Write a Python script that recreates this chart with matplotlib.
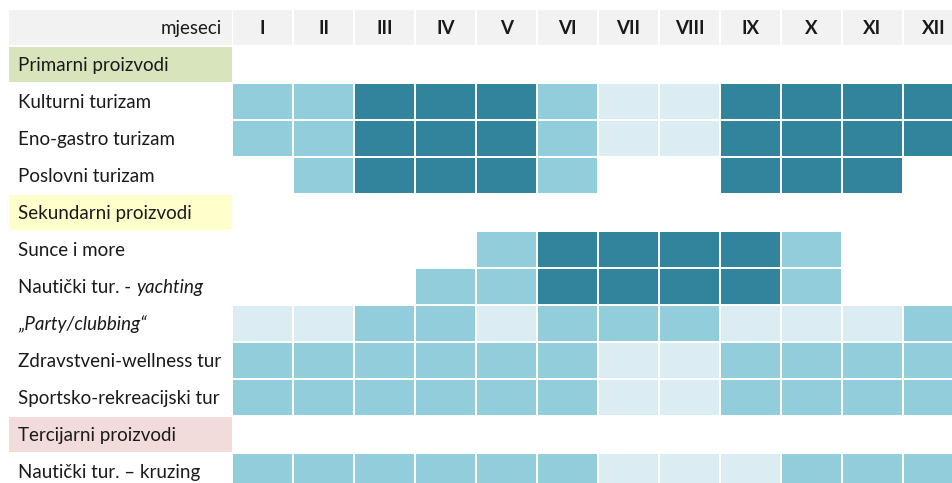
import matplotlib.pyplot as plt
from matplotlib.patches import Rectangle

plt.rcParams['font.family'] = ['Lato', 'DejaVu Sans']

months = ['I', 'II', 'III', 'IV', 'V', 'VI', 'VII', 'VIII', 'IX', 'X', 'XI', 'XII']

# row labels; None in levels marks a section heading
rows = ['Primarni proizvodi', 'Kulturni turizam', 'Eno-gastro turizam', 'Poslovni turizam',
        'Sekundarni proizvodi', 'Sunce i more', 'Nautički tur. - yachting', '„Party/clubbing“',
        'Zdravstveni-wellness tur', 'Sportsko-rekreacijski tur',
        'Tercijarni proizvodi', 'Nautički tur. – kruzing']

# 0 = none, 1 = low, 2 = medium, 3 = high
levels = [
    None,
    [2, 2, 3, 3, 3, 2, 1, 1, 3, 3, 3, 3],
    [2, 2, 3, 3, 3, 2, 1, 1, 3, 3, 3, 3],
    [0, 2, 3, 3, 3, 2, 0, 0, 3, 3, 3, 0],
    None,
    [0, 0, 0, 0, 2, 3, 3, 3, 3, 2, 0, 0],
    [0, 0, 0, 2, 2, 3, 3, 3, 3, 2, 0, 0],
    [1, 1, 2, 2, 1, 2, 2, 2, 1, 1, 1, 2],
    [2, 2, 2, 2, 2, 2, 1, 1, 2, 2, 2, 2],
    [2, 2, 2, 2, 2, 2, 1, 1, 2, 2, 2, 2],
    None,
    [2, 2, 2, 2, 2, 2, 1, 1, 1, 2, 2, 2],
]

section_colors = {'Primarni proizvodi': '#d8e4bc',
                  'Sekundarni proizvodi': '#ffffcc',
                  'Tercijarni proizvodi': '#f2dcdb'}
level_colors = {1: '#dbedf3', 2: '#92cddc', 3: '#31849b'}

W, H = 952, 483
fig = plt.figure(figsize=(W / 100, H / 100), dpi=100)
ax = fig.add_axes([0, 0, 1, 1])
ax.set_xlim(0, W)
ax.set_ylim(H, 0)
ax.axis('off')

lab_x0, lab_x1 = 9, 232
col_x0, col_pitch, col_w = 233, 61, 59
row_y0, row_pitch, row_h = 10, 37, 35
fs = 13.5
txt = '#1a1a1a'

# header
ax.add_patch(Rectangle((lab_x0, row_y0), lab_x1 - lab_x0, row_h, color='#f2f2f2', lw=0))
ax.text(lab_x1 - 10, row_y0 + row_h / 2 + 1, 'mjeseci', ha='right', va='center', fontsize=fs, color=txt)
for j, m in enumerate(months):
    x = col_x0 + j * col_pitch
    ax.add_patch(Rectangle((x, row_y0), col_w, row_h, color='#f2f2f2', lw=0))
    ax.text(x + col_w / 2, row_y0 + row_h / 2 + 1, m, ha='center', va='center',
            fontsize=fs, fontweight='bold', color=txt)

for i, (name, lv) in enumerate(zip(rows, levels)):
    y = row_y0 + (i + 1) * row_pitch
    ty = y + row_h / 2 + 1
    if lv is None:
        ax.add_patch(Rectangle((lab_x0, y), lab_x1 - lab_x0, row_h,
                               color=section_colors[name], lw=0))
    if name == 'Nautički tur. - yachting':
        t = ax.text(18, ty, 'Nautički tur. - ', ha='left', va='center',
                    fontsize=fs, color=txt)
        fig.canvas.draw()
        bb = t.get_window_extent().transformed(ax.transData.inverted())
        ax.text(bb.x1, ty, 'yachting', ha='left', va='center',
                fontsize=fs, style='italic', color=txt)
    else:
        ax.text(18, ty, name, ha='left', va='center', fontsize=fs,
                color=txt, style='italic' if 'Party' in name else 'normal')
    if lv is None:
        continue
    for j, v in enumerate(lv):
        if v == 0:
            continue
        x = col_x0 + j * col_pitch
        ax.add_patch(Rectangle((x, y), col_w, row_h, color=level_colors[v], lw=0))

fig.savefig('out.png', dpi=100)
